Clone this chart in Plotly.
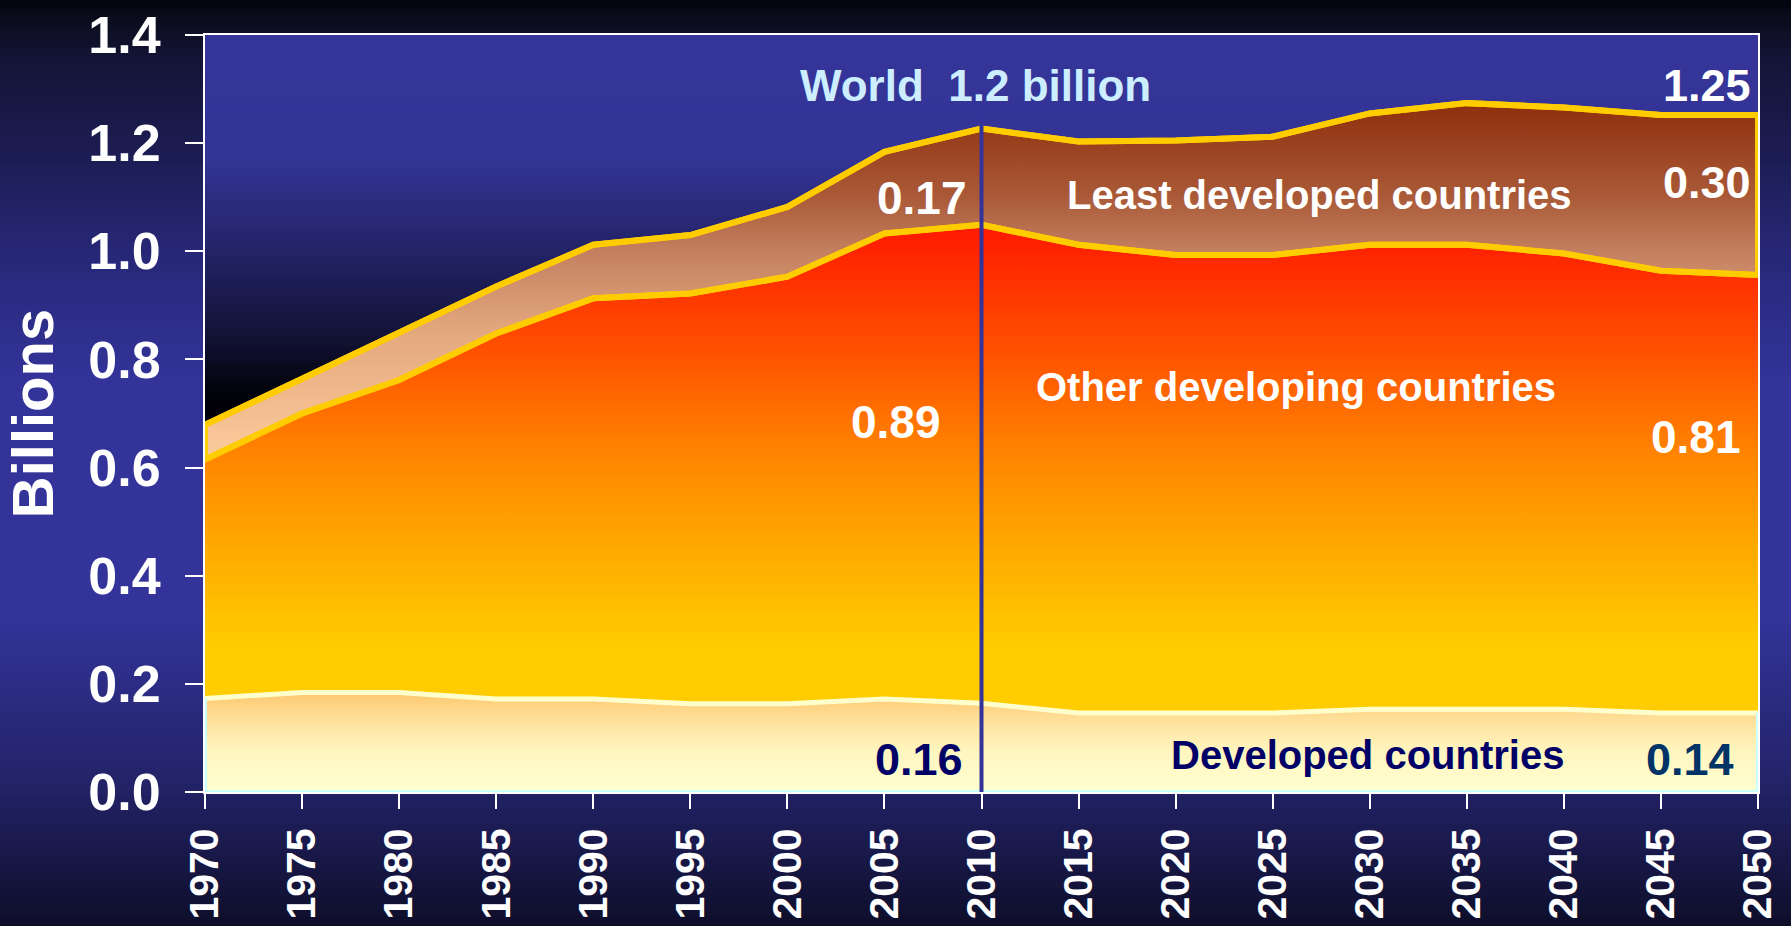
import plotly.graph_objects as go
import numpy as np

# ---------------- data ----------------
years = [1970, 1975, 1980, 1985, 1990, 1995, 2000, 2005, 2010,
         2015, 2020, 2025, 2030, 2035, 2040, 2045, 2050]
developed = [0.173, 0.184, 0.184, 0.172, 0.172, 0.163, 0.163, 0.172, 0.164,
             0.146, 0.146, 0.146, 0.153, 0.153, 0.153, 0.146, 0.146]
other_developing = [0.442, 0.516, 0.578, 0.676, 0.741, 0.759, 0.790, 0.861, 0.885,
                    0.866, 0.847, 0.847, 0.859, 0.859, 0.843, 0.818, 0.810]
least_developed = [0.064, 0.065, 0.086, 0.087, 0.099, 0.108, 0.129, 0.151, 0.178,
                   0.191, 0.212, 0.219, 0.243, 0.262, 0.270, 0.288, 0.296]
divider_year = 2010
y_ticks = [0.0, 0.2, 0.4, 0.6, 0.8, 1.0, 1.2, 1.4]

# ---------------- layout geometry ----------------
W, H = 1791, 926
L, R, T, B = 205, 33, 35, 134
X0, X1 = L, W - R
Y0, Y1 = T, H - B

FONT = "Liberation Sans Narrow, Arial Narrow, Liberation Sans, Arial, sans-serif"
REG = "Liberation Sans, Arial, sans-serif"

yrs = np.array(years, dtype=float)
dev = np.array(developed)
oth = dev + np.array(other_developing)
wld = oth + np.array(least_developed)


def px_y(py):
    return (Y1 - py) / (Y1 - Y0)


def px_x(px):
    return (px - X0) / (X1 - X0)


def interp_color(stops, p):
    ps = [s[0] for s in stops]
    cs = np.array([s[1] for s in stops], dtype=float)
    c = [np.interp(p, ps, cs[:, i]) for i in range(3)]
    return "rgb(%d,%d,%d)" % tuple(int(round(v)) for v in c)


shapes = []
# page background gradient (pixel stops)
page_stops = [(0, (4, 4, 14)), (20, (12, 12, 30)), (60, (20, 20, 55)), (150, (28, 28, 82)),
              (280, (42, 42, 128)), (380, (51, 51, 153)), (620, (51, 51, 153)),
              (780, (35, 35, 105)), (926, (14, 14, 42))]
step = 4
for py in range(0, H, step):
    shapes.append(dict(type="rect", xref="paper", yref="paper", layer="below",
                       x0=px_x(-2), x1=px_x(W + 2), y0=px_y(py + step + 0.5), y1=px_y(py),
                       line=dict(width=0), fillcolor=interp_color(page_stops, py + step / 2)))
# plot-area background gradient
plot_stops = [(35, (53, 53, 154)), (160, (52, 52, 150)), (200, (44, 44, 128)),
              (267, (32, 32, 94)), (333, (19, 19, 56)), (393, (2, 2, 10)), (792, (0, 0, 6))]
for py in range(Y0, 400, step):
    shapes.append(dict(type="rect", xref="paper", yref="paper", layer="below",
                       x0=0, x1=1, y0=px_y(py + step + 0.5), y1=px_y(py),
                       line=dict(width=0), fillcolor=interp_color(plot_stops, py + step / 2)))
shapes.append(dict(type="rect", xref="paper", yref="paper", layer="below",
                   x0=0, x1=1, y0=0, y1=px_y(400), line=dict(width=0),
                   fillcolor="rgb(0,0,6)"))
# divider line at 2010
shapes.append(dict(type="line", xref="x", yref="y", layer="above",
                   x0=divider_year, x1=divider_year, y0=-0.017, y1=1.3,
                   line=dict(color="#333399", width=4)))

fig = go.Figure()

# Developed countries
fig.add_trace(go.Scatter(
    x=years, y=dev, mode="lines", fill="tozeroy",
    line=dict(color="#FFFFCC", width=5),
    fillgradient=dict(type="vertical", start=0, stop=float(dev.max()),
                      colorscale=[[0, "#FFFFD0"], [0.4, "#FFF6C0"], [0.7, "#FFE29E"],
                                  [1, "#FDC870"]]),
    showlegend=False, hoverinfo="skip"))
# Other developing countries
lo, hi = float(dev.min()), float(oth.max())


def fr(v):
    return (v - lo) / (hi - lo)


fig.add_trace(go.Scatter(
    x=years, y=oth, mode="lines", fill="tonexty",
    line=dict(color="#FFCC00", width=6),
    fillgradient=dict(type="vertical", start=lo, stop=hi,
                      colorscale=[[0, "#FFCC00"], [fr(0.27), "#FFCC00"], [fr(0.45), "#FFAA00"],
                                  [fr(0.61), "#FF8800"], [fr(0.80), "#FF5500"], [1, "#FF1800"]]),
    showlegend=False, hoverinfo="skip"))
# Least developed countries
lo2, hi2 = float(oth.min()), float(wld.max())


def fr2(v):
    return (v - lo2) / (hi2 - lo2)


fig.add_trace(go.Scatter(
    x=years, y=wld, mode="lines", fill="tonexty",
    line=dict(color="#FFCC00", width=6),
    fillgradient=dict(type="vertical", start=lo2, stop=hi2,
                      colorscale=[[0, "#FCCC9C"], [fr2(0.85), "#E4A87E"], [fr2(1.0), "#C38060"],
                                  [fr2(1.1), "#AA5A38"], [1, "#8E2E0C"]]),
    showlegend=False, hoverinfo="skip"))
# gold outline closing the least-developed band
fig.add_trace(go.Scatter(
    x=np.concatenate([yrs, yrs[::-1], yrs[:1]]),
    y=np.concatenate([wld, oth[::-1], wld[:1]]),
    mode="lines", line=dict(color="#FFCC00", width=6),
    showlegend=False, hoverinfo="skip"))
# cyan edges of developed band
fig.add_trace(go.Scatter(
    x=[yrs[0], yrs[0], yrs[-1], yrs[-1]],
    y=[dev[0], 0, 0, dev[-1]],
    mode="lines", line=dict(color="#CCFFFF", width=4),
    showlegend=False, hoverinfo="skip"))

annotations = []


def ann(text, x, y, size, color="white", xanchor="center", family=FONT):
    annotations.append(dict(text=text, x=x, y=y, xref="x", yref="y", showarrow=False,
                            xanchor=xanchor, yanchor="middle",
                            font=dict(family=family, size=size, color=color, weight="bold")))


ann("World\u00a0 1.2 billion", 2009.67, 1.306, 44, color="#CCEEFF")
ann("0.17", 2009.36, 1.099, 46, xanchor="right")
ann("Least developed countries", 2027.4, 1.104, 40)
ann("1.25", 2049.75, 1.307, 45, xanchor="right")
ann("0.30", 2049.75, 1.128, 45, xanchor="right")
ann("0.89", 2005.6, 0.684, 46)
ann("Other developing countries", 2026.2, 0.749, 40)
ann("0.81", 2046.8, 0.657, 46)
ann("0.16", 2006.8, 0.061, 45, color="#000066")
ann("Developed countries", 2029.9, 0.068, 40, color="#000066")
ann("0.14", 2046.5, 0.061, 45, color="#003366")

fig.update_layout(
    width=W, height=H,
    margin=dict(l=L, r=R, t=T, b=B, pad=0, autoexpand=False),
    paper_bgcolor="#0c0c2a", plot_bgcolor="rgba(0,0,0,0)",
    shapes=shapes, annotations=annotations,
    showlegend=False,
    xaxis=dict(range=[years[0], years[-1]], tickvals=years, ticktext=[str(v) for v in years],
               tickangle=-90, ticks="outside", ticklen=15, tickwidth=2, tickcolor="white",
               showline=True, linecolor="white", linewidth=2, mirror=True, automargin=False,
               showgrid=False, zeroline=False, ticklabelstandoff=3,
               tickfont=dict(family=FONT, size=41, color="white", weight="bold")),
    yaxis=dict(range=[0, 1.4], tickvals=y_ticks, ticktext=["%.1f" % v for v in y_ticks],
               ticks="outside", ticklen=18, tickwidth=2, tickcolor="white",
               showline=True, linecolor="white", linewidth=2, mirror=True, automargin=False,
               showgrid=False, zeroline=False, ticklabelstandoff=14,
               tickfont=dict(family=FONT, size=52, color="white", weight="bold"),
               title=dict(text="Billions", standoff=34,
                          font=dict(family=REG, size=58, color="white", weight="bold"))),
)

fig.write_html("out.html", config={"displayModeBar": False},
               post_script="document.body.style.margin='0px';"
                           "document.body.style.background='#04040e';")
